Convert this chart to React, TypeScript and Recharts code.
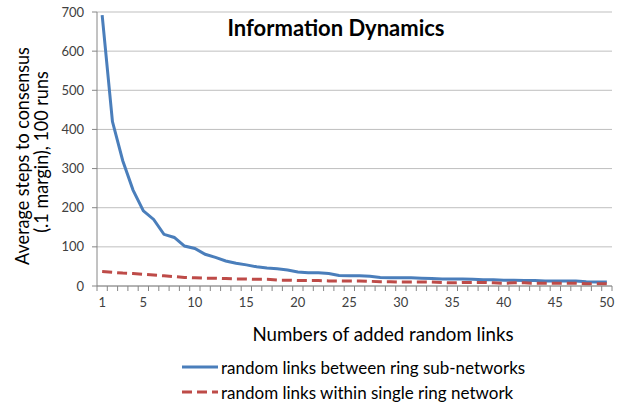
import { LineChart, Line, XAxis, YAxis, CartesianGrid } from 'recharts';

// ---------------------------------------------------------------------------
// Data
// ---------------------------------------------------------------------------
const LINKS = Array.from({ length: 50 }, (_, i) => i + 1);

const BETWEEN_RINGS = [
  692, 420, 320, 245, 192, 170, 132, 124, 102, 96,
  81, 73, 64, 58, 54, 49, 46, 44, 41, 36,
  34, 34, 32, 27, 26, 26, 25, 22, 21, 21,
  21, 20, 19, 18, 18, 18, 17, 16, 16, 15,
  15, 14, 14, 13, 13, 13, 13, 11, 10, 10,
];

const WITHIN_RING = [
  37, 35, 33, 32, 30, 28, 26, 24, 22, 21,
  20, 20, 19, 18, 18, 17, 17, 15, 15, 14,
  14, 14, 13, 13, 13, 13, 12, 11, 11, 10,
  10, 10, 10, 9, 8, 9, 9, 9, 8, 7,
  8, 8, 7, 7, 7, 7, 7, 6, 6, 6,
];

const X_LABELS = [1, 5, 10, 15, 20, 25, 30, 35, 40, 45, 50];
const Y_TICKS = [0, 100, 200, 300, 400, 500, 600, 700];

const SERIES = [
  { key: 'between', label: 'random links between ring sub-networks', color: '#4A7EBB', dash: undefined },
  { key: 'within', label: 'random links within single ring network', color: '#BE4B48', dash: '10 5' },
];

// ---------------------------------------------------------------------------
// Theme
// ---------------------------------------------------------------------------
const FONT = 'Lato, "Open Sans", sans-serif';
const AXIS_COLOR = '#868686';
const GRID_COLOR = '#BFBFBF';
const TICK_COLOR = '#404040';
const HALF_BAND = 5.15;

const data = LINKS.map((n, i) => ({
  n,
  between: BETWEEN_RINGS[i],
  within: WITHIN_RING[i],
}));

// Excel-style category ticks: marks between categories, labels on a subset
function CategoryTick(props: any) {
  const { x, y, payload } = props;
  const v = payload.value as number;
  return (
    <g>
      <line x1={x - HALF_BAND} x2={x - HALF_BAND} y1={y - 8} y2={y - 3} stroke={AXIS_COLOR} />
      {v === LINKS[LINKS.length - 1] && (
        <line x1={x + HALF_BAND} x2={x + HALF_BAND} y1={y - 8} y2={y - 3} stroke={AXIS_COLOR} />
      )}
      {X_LABELS.includes(v) && (
        <text x={x} y={y + 13} textAnchor="middle" fill={TICK_COLOR} fontSize={13} fontFamily={FONT}>
          {v}
        </text>
      )}
    </g>
  );
}

export default function App() {
  return (
    <div style={{ position: 'absolute', left: 0, top: 0, width: 618, height: 404, background: '#fff' }}>
      <LineChart width={618} height={404} data={data} margin={{ top: 12, right: 6, bottom: 88, left: 0 }}>
        <CartesianGrid vertical={false} stroke={GRID_COLOR} />
        <XAxis
          dataKey="n"
          ticks={LINKS}
          interval={0}
          tickLine={false}
          tick={<CategoryTick />}
          stroke={AXIS_COLOR}
          padding={{ left: HALF_BAND, right: HALF_BAND }}
          height={30}
        />
        <YAxis
          domain={[0, 700]}
          ticks={Y_TICKS}
          width={97}
          stroke={AXIS_COLOR}
          tickSize={5}
          tickMargin={8}
          tick={{ fill: TICK_COLOR, fontSize: 13, fontFamily: FONT }}
        />
        {SERIES.map((s) => (
          <Line
            key={s.key}
            dataKey={s.key}
            stroke={s.color}
            strokeWidth={3}
            strokeDasharray={s.dash}
            dot={false}
            type="linear"
            isAnimationActive={false}
          />
        ))}
        <text x={336} y={36} textAnchor="middle" fontSize={22} fontWeight={700} fontFamily={FONT} fill="#000">
          Information Dynamics
        </text>
        <text x={383} y={341} textAnchor="middle" fontSize={18.7} fontFamily={FONT} fill="#000">
          Numbers of added random links
        </text>
        {/* rotated title looks slightly stretched across in the reference */}
        <g fontSize={18} fontFamily={FONT} fill="#000" textAnchor="middle">
          <text transform="translate(29 156) rotate(-90) scale(1 1.12)">Average steps to consensus</text>
          <text transform="translate(48 152) rotate(-90) scale(1 1.12)">(.1 margin), 100 runs</text>
        </g>
        {SERIES.map((s, i) => (
          <g key={`lg-${s.key}`}>
            <line
              x1={182}
              x2={218}
              y1={367 + i * 25}
              y2={367 + i * 25}
              stroke={s.color}
              strokeWidth={3}
              strokeDasharray={s.dash}
            />
            <text x={221} y={374 + i * 25} fontSize={17} fontFamily={FONT} fill="#000">
              {s.label}
            </text>
          </g>
        ))}
      </LineChart>
    </div>
  );
}
